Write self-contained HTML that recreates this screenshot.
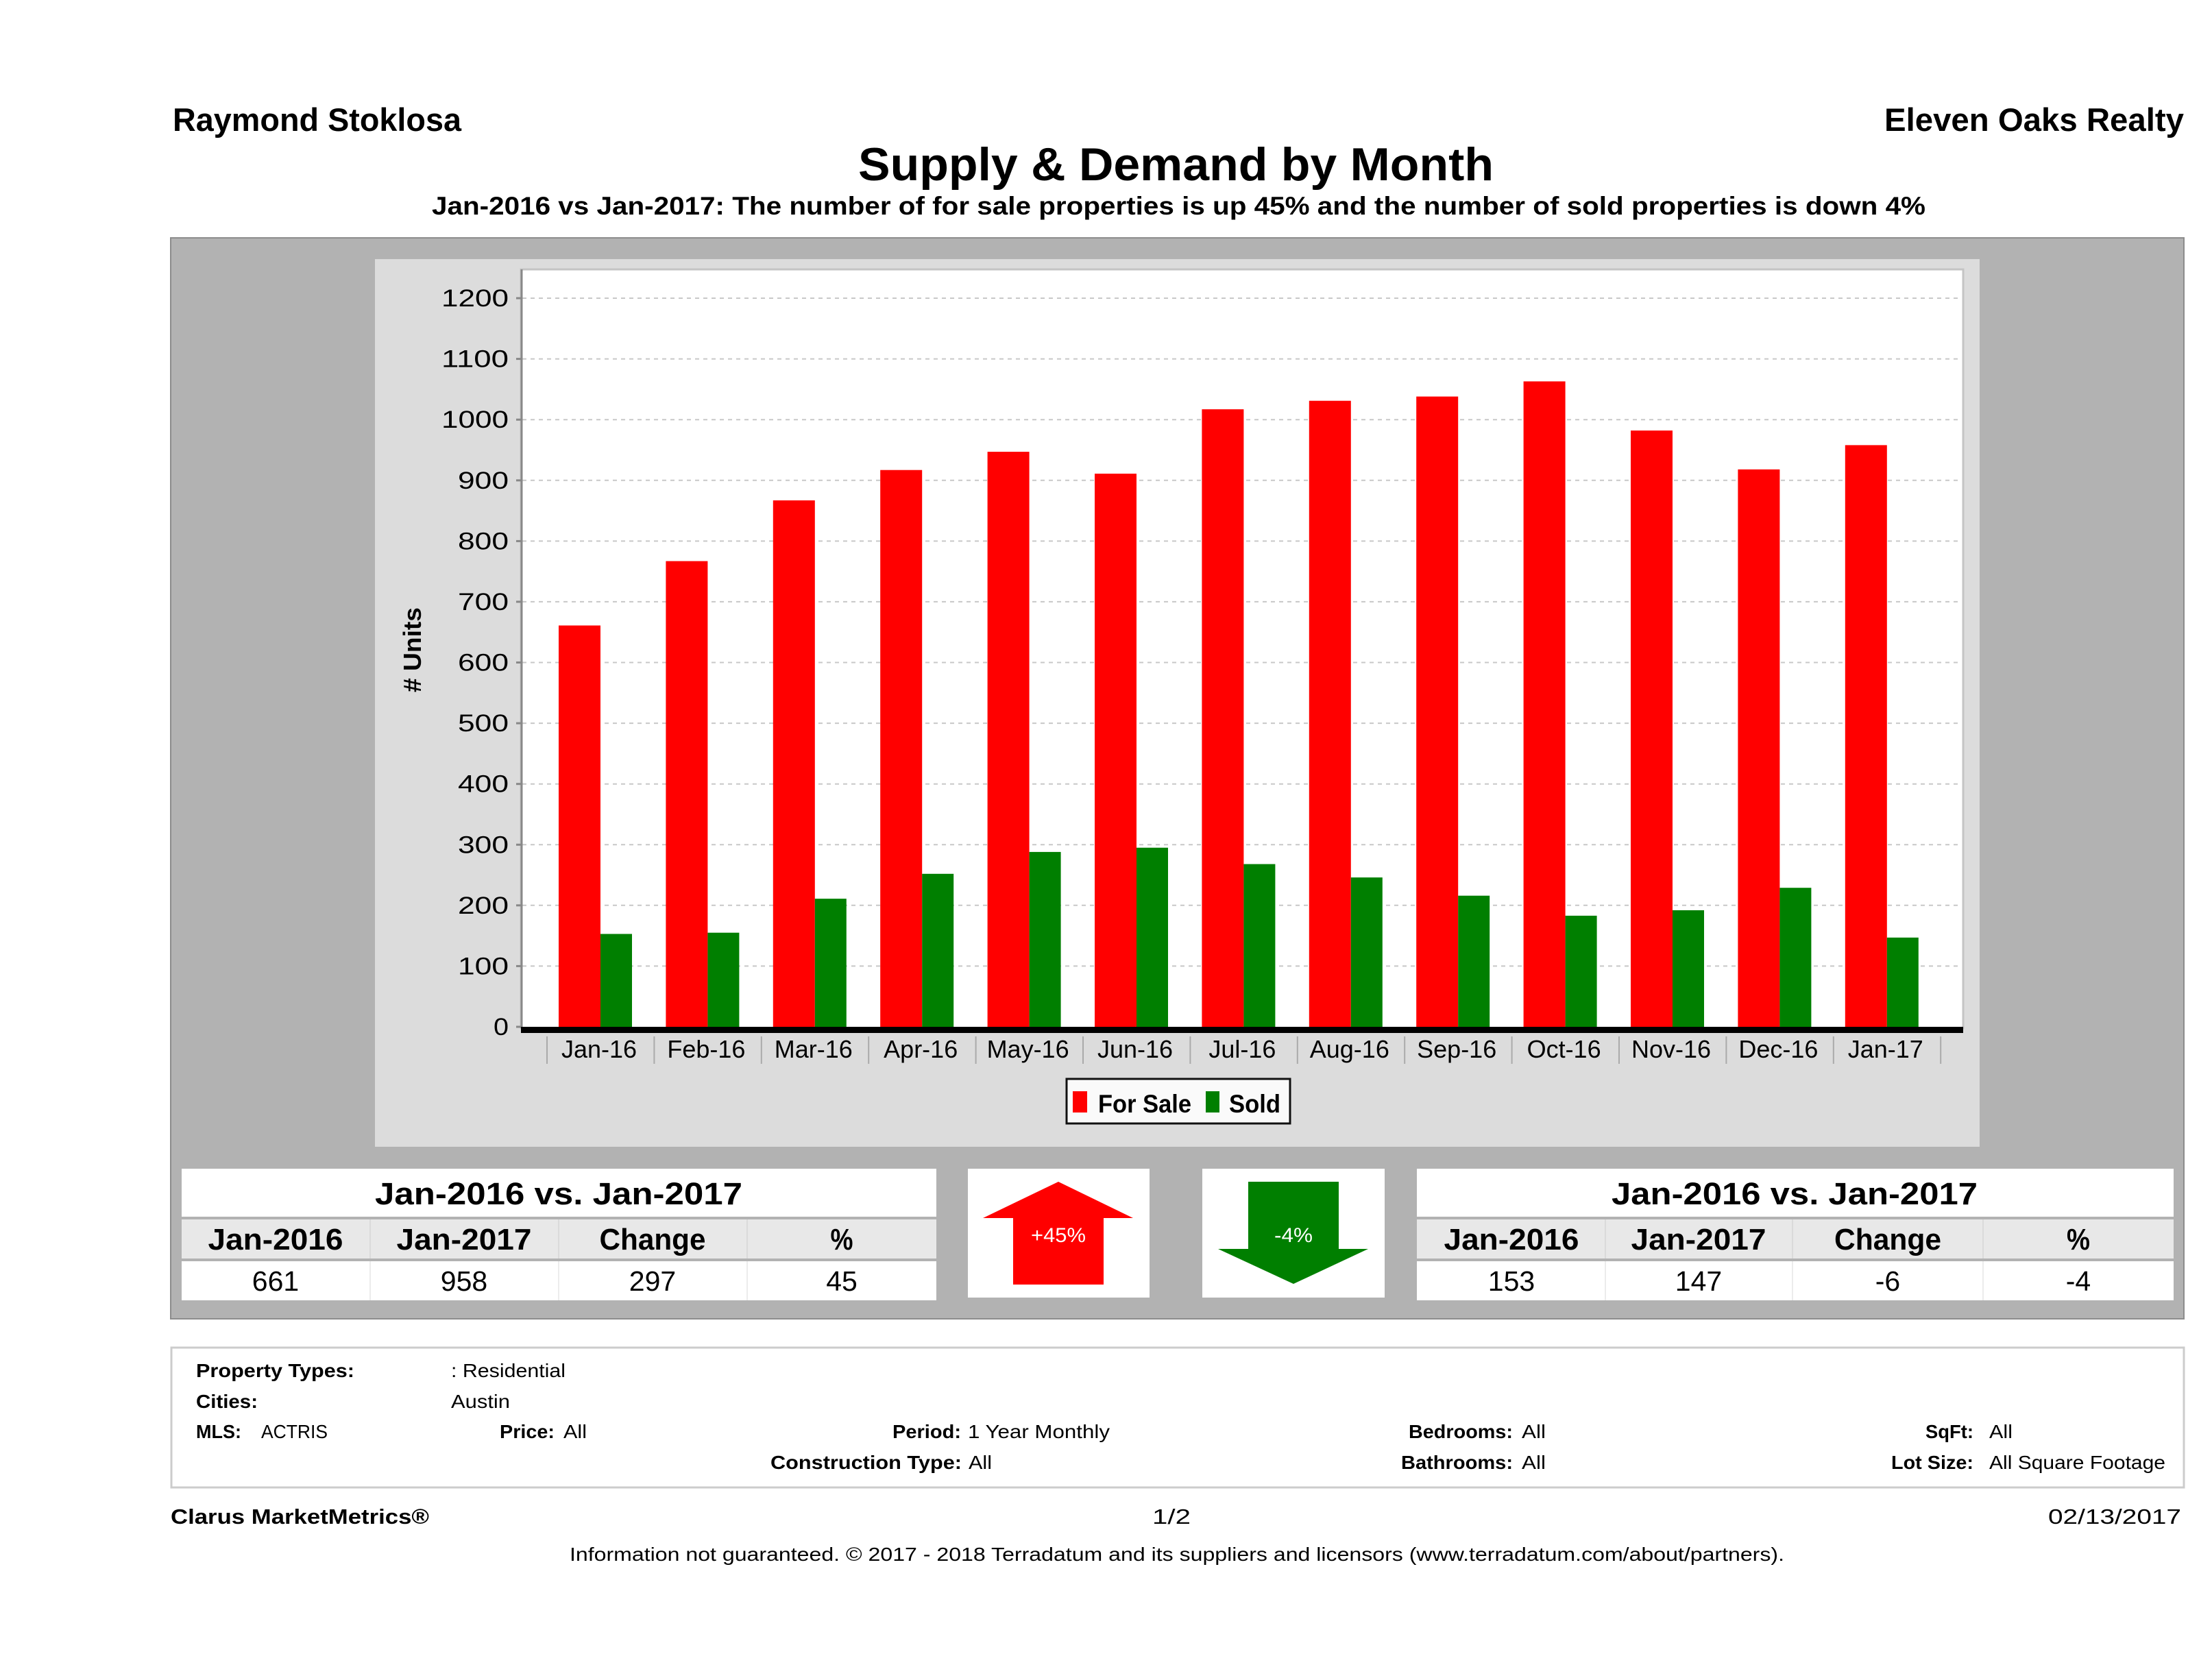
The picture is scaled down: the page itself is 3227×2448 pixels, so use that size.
<!DOCTYPE html>
<html><head><meta charset="utf-8"><style>
html,body{margin:0;padding:0;background:#fff;}
svg{display:block;}
text{font-family:"Liberation Sans",sans-serif;fill:#000;}
.b{font-weight:bold;}
</style></head><body>
<svg width="3227" height="2448" viewBox="0 0 3227 2448" xmlns="http://www.w3.org/2000/svg">
<rect x="0" y="0" width="3227" height="2448" fill="#fff"/>
<!-- header -->
<text class="b" x="252" y="191" font-size="47" textLength="421" lengthAdjust="spacingAndGlyphs">Raymond Stoklosa</text>
<text class="b" x="2749" y="191" font-size="47" textLength="437" lengthAdjust="spacingAndGlyphs">Eleven Oaks Realty</text>
<text class="b" x="1252" y="263" font-size="68" textLength="927" lengthAdjust="spacingAndGlyphs">Supply &amp; Demand by Month</text>
<text class="b" x="630" y="313" font-size="37" textLength="2179" lengthAdjust="spacingAndGlyphs">Jan-2016 vs Jan-2017: The number of for sale properties is up 45% and the number of sold properties is down 4%</text>

<!-- gray panel -->
<rect x="249" y="347" width="2937" height="1577" fill="#b2b2b2" stroke="#8c8c8c" stroke-width="2"/>
<!-- chart panel -->
<rect x="547" y="378" width="2341" height="1295" fill="#dcdcdc"/>
<!-- plot area -->
<rect x="760" y="393" width="2104" height="1107" fill="#fff" stroke="#c4c4c4" stroke-width="3"/>

<!-- gridlines -->
<g stroke="#c8c8c8" stroke-width="2" stroke-dasharray="6,6">
<line x1="762" y1="1409.4" x2="2862" y2="1409.4"/>
<line x1="762" y1="1320.8" x2="2862" y2="1320.8"/>
<line x1="762" y1="1232.3" x2="2862" y2="1232.3"/>
<line x1="762" y1="1143.7" x2="2862" y2="1143.7"/>
<line x1="762" y1="1055.1" x2="2862" y2="1055.1"/>
<line x1="762" y1="966.5" x2="2862" y2="966.5"/>
<line x1="762" y1="877.9" x2="2862" y2="877.9"/>
<line x1="762" y1="789.4" x2="2862" y2="789.4"/>
<line x1="762" y1="700.8" x2="2862" y2="700.8"/>
<line x1="762" y1="612.2" x2="2862" y2="612.2"/>
<line x1="762" y1="523.6" x2="2862" y2="523.6"/>
<line x1="762" y1="435" x2="2862" y2="435"/>
</g>

<!-- y ticks -->
<g stroke="#888" stroke-width="3">
<line x1="753" y1="1498" x2="761" y2="1498"/>
<line x1="753" y1="1409.4" x2="761" y2="1409.4"/>
<line x1="753" y1="1320.8" x2="761" y2="1320.8"/>
<line x1="753" y1="1232.3" x2="761" y2="1232.3"/>
<line x1="753" y1="1143.7" x2="761" y2="1143.7"/>
<line x1="753" y1="1055.1" x2="761" y2="1055.1"/>
<line x1="753" y1="966.5" x2="761" y2="966.5"/>
<line x1="753" y1="877.9" x2="761" y2="877.9"/>
<line x1="753" y1="789.4" x2="761" y2="789.4"/>
<line x1="753" y1="700.8" x2="761" y2="700.8"/>
<line x1="753" y1="612.2" x2="761" y2="612.2"/>
<line x1="753" y1="523.6" x2="761" y2="523.6"/>
<line x1="753" y1="435" x2="761" y2="435"/>
</g>
<!-- y labels -->
<g font-size="35" text-anchor="end">
<text x="742" y="1510" textLength="22" lengthAdjust="spacingAndGlyphs">0</text>
<text x="742" y="1421.4" textLength="74" lengthAdjust="spacingAndGlyphs">100</text>
<text x="742" y="1332.8" textLength="74" lengthAdjust="spacingAndGlyphs">200</text>
<text x="742" y="1244.3" textLength="74" lengthAdjust="spacingAndGlyphs">300</text>
<text x="742" y="1155.7" textLength="74" lengthAdjust="spacingAndGlyphs">400</text>
<text x="742" y="1067.1" textLength="74" lengthAdjust="spacingAndGlyphs">500</text>
<text x="742" y="978.5" textLength="74" lengthAdjust="spacingAndGlyphs">600</text>
<text x="742" y="889.9" textLength="74" lengthAdjust="spacingAndGlyphs">700</text>
<text x="742" y="801.4" textLength="74" lengthAdjust="spacingAndGlyphs">800</text>
<text x="742" y="712.8" textLength="74" lengthAdjust="spacingAndGlyphs">900</text>
<text x="742" y="624.2" textLength="98" lengthAdjust="spacingAndGlyphs">1000</text>
<text x="742" y="535.6" textLength="98" lengthAdjust="spacingAndGlyphs">1100</text>
<text x="742" y="447" textLength="98" lengthAdjust="spacingAndGlyphs">1200</text>
</g>
<text class="b" font-size="36" text-anchor="middle" transform="translate(614,948) rotate(-90)" textLength="124" lengthAdjust="spacingAndGlyphs"># Units</text>

<!-- bars: For Sale -->
<g fill="#ff0000">
<rect x="815" y="912.5" width="61" height="585.5"/>
<rect x="971.4" y="818.6" width="61" height="679.4"/>
<rect x="1127.8" y="730" width="61" height="768"/>
<rect x="1284.2" y="685.7" width="61" height="812.3"/>
<rect x="1440.6" y="659.1" width="61" height="838.9"/>
<rect x="1597" y="691" width="61" height="807"/>
<rect x="1753.4" y="597.1" width="61" height="900.9"/>
<rect x="1909.8" y="584.7" width="61" height="913.3"/>
<rect x="2066.2" y="578.5" width="61" height="919.5"/>
<rect x="2222.6" y="556.4" width="61" height="941.6"/>
<rect x="2379" y="628.1" width="61" height="869.9"/>
<rect x="2535.4" y="684.8" width="61" height="813.2"/>
<rect x="2691.8" y="649.4" width="61" height="848.6"/>
</g>
<!-- bars: Sold -->
<g fill="#007f00">
<rect x="876" y="1362.5" width="46" height="135.5"/>
<rect x="1032.4" y="1360.7" width="46" height="137.3"/>
<rect x="1188.8" y="1311.1" width="46" height="186.9"/>
<rect x="1345.2" y="1274.8" width="46" height="223.2"/>
<rect x="1501.6" y="1242.9" width="46" height="255.1"/>
<rect x="1658" y="1236.7" width="46" height="261.3"/>
<rect x="1814.4" y="1260.6" width="46" height="237.4"/>
<rect x="1970.8" y="1280.1" width="46" height="217.9"/>
<rect x="2127.2" y="1306.7" width="46" height="191.3"/>
<rect x="2283.6" y="1335.9" width="46" height="162.1"/>
<rect x="2440" y="1327.9" width="46" height="170.1"/>
<rect x="2596.4" y="1295.2" width="46" height="202.8"/>
<rect x="2752.8" y="1367.8" width="46" height="130.2"/>
</g>
<!-- left axis line -->
<line x1="761" y1="393" x2="761" y2="1500" stroke="#888" stroke-width="3"/>
<!-- x axis -->
<rect x="760" y="1498" width="2104" height="9" fill="#000"/>
<!-- category separators -->
<g stroke="#aaa" stroke-width="2">
<line x1="798" y1="1512" x2="798" y2="1552"/>
<line x1="954.4" y1="1512" x2="954.4" y2="1552"/>
<line x1="1110.8" y1="1512" x2="1110.8" y2="1552"/>
<line x1="1267.2" y1="1512" x2="1267.2" y2="1552"/>
<line x1="1423.6" y1="1512" x2="1423.6" y2="1552"/>
<line x1="1580" y1="1512" x2="1580" y2="1552"/>
<line x1="1736.4" y1="1512" x2="1736.4" y2="1552"/>
<line x1="1892.8" y1="1512" x2="1892.8" y2="1552"/>
<line x1="2049.2" y1="1512" x2="2049.2" y2="1552"/>
<line x1="2205.6" y1="1512" x2="2205.6" y2="1552"/>
<line x1="2362" y1="1512" x2="2362" y2="1552"/>
<line x1="2518.4" y1="1512" x2="2518.4" y2="1552"/>
<line x1="2674.8" y1="1512" x2="2674.8" y2="1552"/>
<line x1="2831.2" y1="1512" x2="2831.2" y2="1552"/>
</g>
<g font-size="36" text-anchor="middle">
<text x="874" y="1543">Jan-16</text>
<text x="1030.4" y="1543">Feb-16</text>
<text x="1186.8" y="1543">Mar-16</text>
<text x="1343.2" y="1543">Apr-16</text>
<text x="1499.6" y="1543">May-16</text>
<text x="1656" y="1543">Jun-16</text>
<text x="1812.4" y="1543">Jul-16</text>
<text x="1968.8" y="1543">Aug-16</text>
<text x="2125.2" y="1543">Sep-16</text>
<text x="2281.6" y="1543">Oct-16</text>
<text x="2438" y="1543">Nov-16</text>
<text x="2594.4" y="1543">Dec-16</text>
<text x="2750.8" y="1543">Jan-17</text>
</g>

<!-- legend -->
<rect x="1556" y="1574" width="326" height="65" fill="#fafafa" stroke="#111" stroke-width="3"/>
<rect x="1565" y="1592" width="21" height="31" fill="#ff0000"/>
<text class="b" x="1602" y="1623" font-size="37" textLength="136" lengthAdjust="spacingAndGlyphs">For Sale</text>
<rect x="1759" y="1592" width="20" height="31" fill="#007f00"/>
<text class="b" x="1793" y="1623" font-size="37" textLength="75" lengthAdjust="spacingAndGlyphs">Sold</text>

<!-- left table -->
<rect x="265" y="1705" width="1101" height="70" fill="#fff"/>
<rect x="265" y="1779" width="1101" height="57" fill="#e8e8e8"/>
<rect x="265" y="1840" width="1101" height="57" fill="#fff"/>
<g stroke="#dadada" stroke-width="2">
<line x1="540" y1="1779" x2="540" y2="1836"/><line x1="815" y1="1779" x2="815" y2="1836"/><line x1="1090" y1="1779" x2="1090" y2="1836"/>
</g>
<g stroke="#ececec" stroke-width="2">
<line x1="540" y1="1840" x2="540" y2="1897"/><line x1="815" y1="1840" x2="815" y2="1897"/><line x1="1090" y1="1840" x2="1090" y2="1897"/>
</g>
<text class="b" x="815" y="1757" font-size="45" text-anchor="middle" textLength="536" lengthAdjust="spacingAndGlyphs">Jan-2016 vs. Jan-2017</text>
<g class="b" font-size="44" text-anchor="middle" font-weight="bold">
<text x="402" y="1823" textLength="197" lengthAdjust="spacingAndGlyphs">Jan-2016</text>
<text x="677" y="1823" textLength="197" lengthAdjust="spacingAndGlyphs">Jan-2017</text>
<text x="952" y="1823" textLength="155" lengthAdjust="spacingAndGlyphs">Change</text>
<text x="1228" y="1823" textLength="33" lengthAdjust="spacingAndGlyphs">%</text>
</g>
<g font-size="41" text-anchor="middle">
<text x="402" y="1883">661</text>
<text x="677" y="1883">958</text>
<text x="952" y="1883">297</text>
<text x="1228" y="1883">45</text>
</g>

<!-- arrow boxes -->
<rect x="1412" y="1705" width="265" height="188" fill="#fff"/>
<polygon points="1544,1724 1653,1777 1610,1777 1610,1874 1478,1874 1478,1777 1434,1777" fill="#ff0000"/>
<text x="1544" y="1812" font-size="30" text-anchor="middle" fill="#fff" style="fill:#fff" textLength="80" lengthAdjust="spacingAndGlyphs">+45%</text>
<rect x="1754" y="1705" width="266" height="188" fill="#fff"/>
<polygon points="1821,1724 1953,1724 1953,1822 1996,1822 1887,1873 1777,1822 1821,1822" fill="#007f00"/>
<text x="1887" y="1812" font-size="30" text-anchor="middle" style="fill:#fff" textLength="56" lengthAdjust="spacingAndGlyphs">-4%</text>

<!-- right table -->
<rect x="2067" y="1705" width="1104" height="70" fill="#fff"/>
<rect x="2067" y="1779" width="1104" height="57" fill="#e8e8e8"/>
<rect x="2067" y="1840" width="1104" height="57" fill="#fff"/>
<g stroke="#dadada" stroke-width="2">
<line x1="2342" y1="1779" x2="2342" y2="1836"/><line x1="2615" y1="1779" x2="2615" y2="1836"/><line x1="2893" y1="1779" x2="2893" y2="1836"/>
</g>
<g stroke="#ececec" stroke-width="2">
<line x1="2342" y1="1840" x2="2342" y2="1897"/><line x1="2615" y1="1840" x2="2615" y2="1897"/><line x1="2893" y1="1840" x2="2893" y2="1897"/>
</g>
<text class="b" x="2618" y="1757" font-size="45" text-anchor="middle" textLength="534" lengthAdjust="spacingAndGlyphs">Jan-2016 vs. Jan-2017</text>
<g class="b" font-size="44" text-anchor="middle" font-weight="bold">
<text x="2205" y="1823" textLength="197" lengthAdjust="spacingAndGlyphs">Jan-2016</text>
<text x="2478" y="1823" textLength="197" lengthAdjust="spacingAndGlyphs">Jan-2017</text>
<text x="2754" y="1823" textLength="156" lengthAdjust="spacingAndGlyphs">Change</text>
<text x="3032" y="1823" textLength="34" lengthAdjust="spacingAndGlyphs">%</text>
</g>
<g font-size="41" text-anchor="middle">
<text x="2205" y="1883">153</text>
<text x="2478" y="1883">147</text>
<text x="2754" y="1883">-6</text>
<text x="3032" y="1883">-4</text>
</g>

<!-- footer box -->
<rect x="250" y="1966" width="2936" height="204" fill="#fff" stroke="#cccccc" stroke-width="3"/>
<g font-size="28">
<text class="b" x="286" y="2009" textLength="231" lengthAdjust="spacingAndGlyphs">Property Types:</text>
<text x="658" y="2009" textLength="167" lengthAdjust="spacingAndGlyphs">: Residential</text>
<text class="b" x="286" y="2054" textLength="90" lengthAdjust="spacingAndGlyphs">Cities:</text>
<text x="658" y="2054" textLength="86" lengthAdjust="spacingAndGlyphs">Austin</text>
<text class="b" x="286" y="2098" textLength="66" lengthAdjust="spacingAndGlyphs">MLS:</text>
<text x="381" y="2098" textLength="97" lengthAdjust="spacingAndGlyphs">ACTRIS</text>
<text class="b" x="729" y="2098" textLength="80" lengthAdjust="spacingAndGlyphs">Price:</text>
<text x="822" y="2098" textLength="34" lengthAdjust="spacingAndGlyphs">All</text>
<text class="b" x="1302" y="2098" textLength="100" lengthAdjust="spacingAndGlyphs">Period:</text>
<text x="1412" y="2098" textLength="207" lengthAdjust="spacingAndGlyphs">1 Year Monthly</text>
<text class="b" x="1124" y="2143" textLength="279" lengthAdjust="spacingAndGlyphs">Construction Type:</text>
<text x="1413" y="2143" textLength="34" lengthAdjust="spacingAndGlyphs">All</text>
<text class="b" x="2055" y="2098" textLength="152" lengthAdjust="spacingAndGlyphs">Bedrooms:</text>
<text x="2220" y="2098" textLength="35" lengthAdjust="spacingAndGlyphs">All</text>
<text class="b" x="2044" y="2143" textLength="163" lengthAdjust="spacingAndGlyphs">Bathrooms:</text>
<text x="2220" y="2143" textLength="35" lengthAdjust="spacingAndGlyphs">All</text>
<text class="b" x="2809" y="2098" textLength="70" lengthAdjust="spacingAndGlyphs">SqFt:</text>
<text x="2902" y="2098" textLength="34" lengthAdjust="spacingAndGlyphs">All</text>
<text class="b" x="2759" y="2143" textLength="120" lengthAdjust="spacingAndGlyphs">Lot Size:</text>
<text x="2902" y="2143" textLength="257" lengthAdjust="spacingAndGlyphs">All Square Footage</text>
</g>

<!-- bottom line -->
<text class="b" x="249" y="2223" font-size="31" textLength="377" lengthAdjust="spacingAndGlyphs">Clarus MarketMetrics®</text>
<text x="1709" y="2223" font-size="31" text-anchor="middle" textLength="56" lengthAdjust="spacingAndGlyphs">1/2</text>
<text x="2988" y="2223" font-size="31" textLength="194" lengthAdjust="spacingAndGlyphs">02/13/2017</text>
<text x="831" y="2277" font-size="28" textLength="1772" lengthAdjust="spacingAndGlyphs">Information not guaranteed. © 2017 - 2018 Terradatum and its suppliers and licensors (www.terradatum.com/about/partners).</text>
</svg>
</body></html>
